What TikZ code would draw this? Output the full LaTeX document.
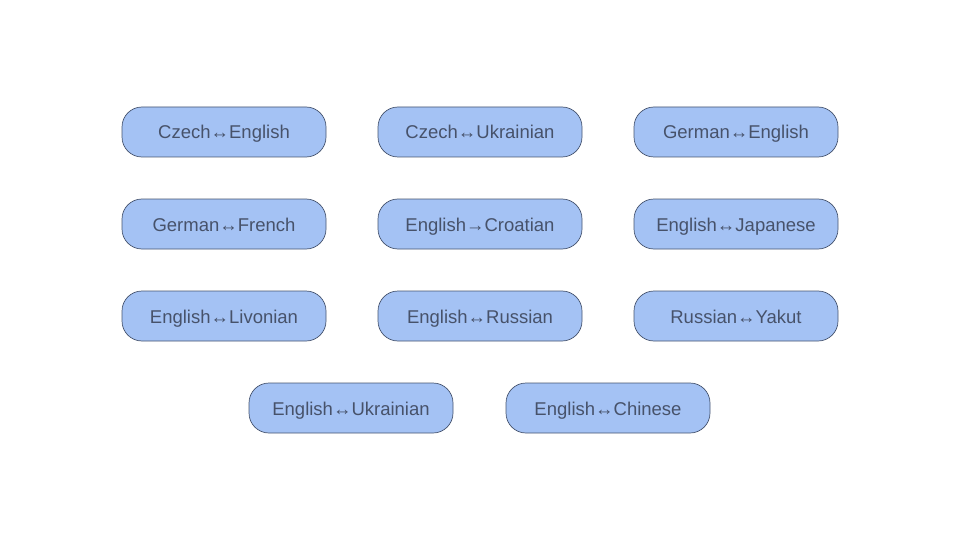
\documentclass[tikz,border=0pt]{standalone}
\usepackage{fontspec}
\setmainfont{Liberation Sans}
\usepackage{tikz}
\usetikzlibrary{positioning}
\definecolor{pairfill}{HTML}{A4C2F4}
\definecolor{pairline}{HTML}{46546F}
\definecolor{pairtext}{HTML}{47526A}
\tikzset{pair/.style={draw=pairline,fill=pairfill,rounded corners=20pt,minimum width=204pt,minimum height=50pt,text=pairtext,font=\fontsize{18.5pt}{22pt}\selectfont,text height=16pt,text depth=2pt,inner sep=0pt,line width=0.7pt}}

\begin{document}
\begin{tikzpicture}[x=1pt,y=-1pt]
        \useasboundingbox (0,0) rectangle (960,540);
        \foreach \name/\lbl/\x/\y in{czen/Czech↔English/224/132,csuk/Czech↔Ukrainian/480/132,deen/German↔English/736/132,defr/German↔French/224/224,enhr/English→Croatian/480/224,enja/English↔Japanese/736/224,enliv/English↔Livonian/224/316,enru/English↔Russian/480/316,ruyak/Russian↔Yakut/736/316}
            \node[pair] (\name) at (\x,\y) {\lbl};
        \node[pair] (enuk) at (351,408) {English↔Ukrainian};
        \node[pair] (enzh) at (608,408) {English↔Chinese};
    \end{tikzpicture}
\end{document}
